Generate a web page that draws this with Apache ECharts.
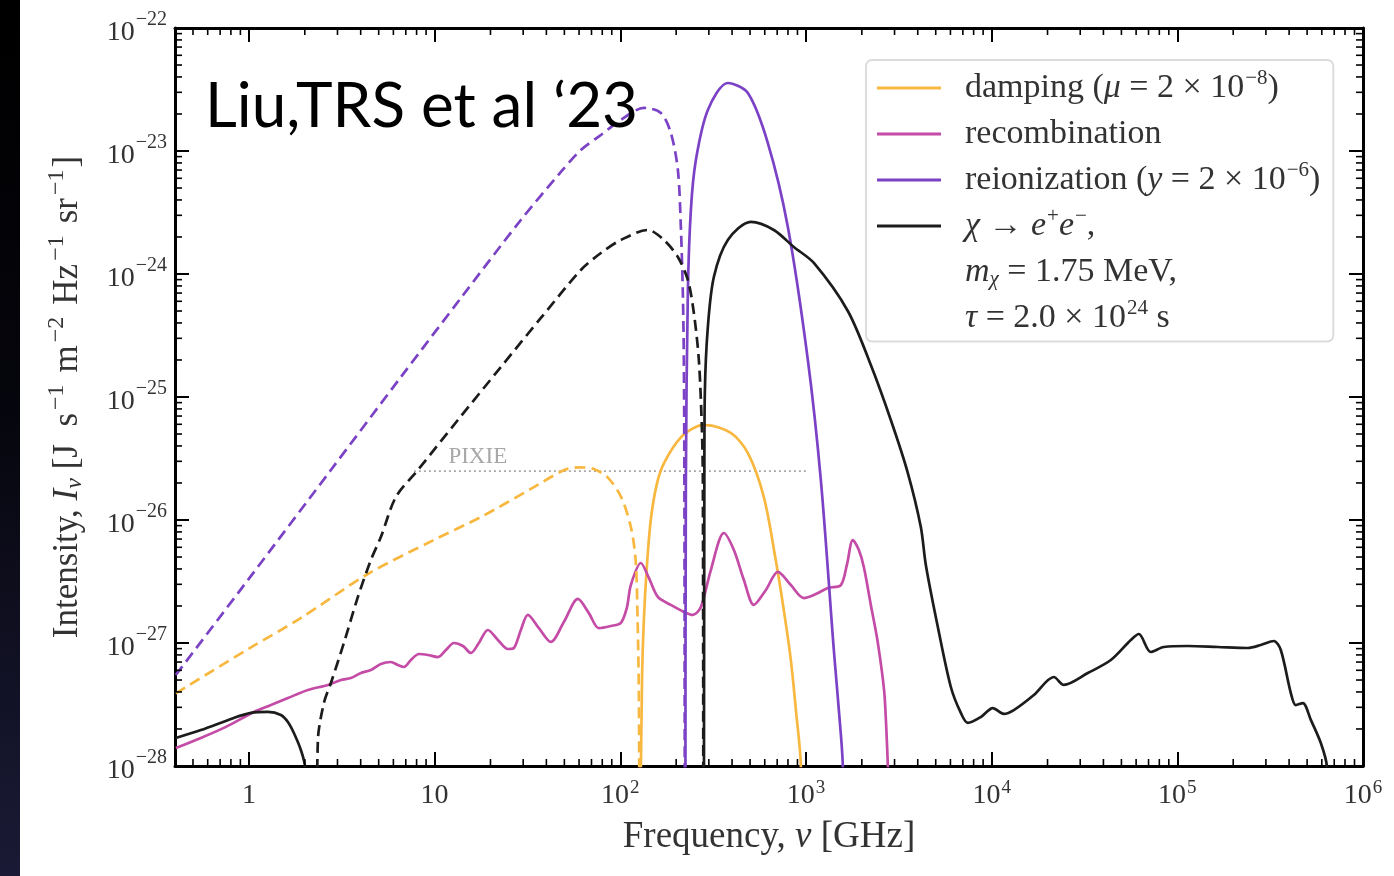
<!DOCTYPE html>
<html>
<head>
<meta charset="utf-8">
<script src="https://cdn.jsdelivr.net/npm/echarts@6/dist/echarts.min.js"></script>
<style>
  html, body { margin: 0; padding: 0; background: #fff; }
  #strip { position: absolute; left: 0; top: 0; width: 20px; height: 876px; background: linear-gradient(#000 0%, #05050c 45%, #1a1a36 100%); }
  #chart { position: absolute; left: 0; top: 0; width: 1394px; height: 876px; }
</style>
</head>
<body>
<div id="strip"></div>
<div id="chart"></div>
<script>
// frequency in GHz, intensity in J s^-1 m^-2 Hz^-1 sr^-1
// dashed parts = negative values (plotted as |I|)
var dampingPos = [[127, 1e-29], [131, 5.0e-28], [134, 1.54e-27], [139, 4.15e-27], [146, 1.0e-26], [157, 1.93e-26],
  [172, 2.9e-26], [212, 4.7e-26], [262, 5.8e-26], [289, 5.9e-26], [394, 5.1e-26], [487, 3.5e-26], [593, 1.54e-26],
  [688, 4.7e-27], [760, 1.85e-27], [829, 7.3e-28], [883, 2.85e-28], [939, 1.0e-28], [950, 1e-29]];
var dampingNeg = [[0.404, 3.9e-28], [1.0, 9.0e-28], [1.91, 1.6e-27], [4.37, 3.64e-27], [9.9, 6.88e-27], [17.8, 1.06e-26],
  [33, 1.79e-26], [50, 2.55e-26], [60, 2.68e-26], [72, 2.6e-26], [86, 2.2e-26], [101, 1.54e-26], [114, 8.8e-27],
  [121, 4.7e-27], [124, 1.54e-27], [126, 3.4e-28], [127, 1e-29]];

var recombination = [[0.404, 1.40e-28], [0.551, 1.69e-28], [0.752, 2.08e-28], [1.064, 2.75e-28], [1.314, 3.13e-28],
  [1.622, 3.57e-28], [2.078, 4.15e-28], [2.664, 4.56e-28], [3.129, 5.00e-28], [3.542, 5.19e-28], [4.010, 5.70e-28],
  [4.539, 6.03e-28], [5.137, 6.75e-28], [5.817, 7.01e-28], [6.345, 6.62e-28], [6.833, 6.38e-28], [7.456, 7.27e-28],
  [8.232, 8.14e-28], [9.203, 7.99e-28], [10.42, 7.69e-28], [11.51, 8.77e-28], [12.70, 1.00e-27], [14.21, 9.45e-28],
  [15.69, 8.29e-28], [17.32, 1.00e-27], [19.36, 1.276e-27], [21.93, 1.058e-27], [24.81, 8.94e-28], [26.73, 9.11e-28],
  [29.15, 1.276e-27], [31.80, 1.69e-27], [36.46, 1.32e-27], [42.29, 1.02e-27], [49.70, 1.48e-27], [59.13, 2.28e-27],
  [67.75, 1.75e-27], [76.70, 1.32e-27], [89.01, 1.375e-27], [100.7, 1.455e-27], [108.5, 1.93e-27], [114.0, 2.96e-27],
  [129.1, 4.47e-27], [142.6, 3.38e-27], [159.4, 2.37e-27], [187.3, 2.04e-27], [220.0, 1.79e-27], [246.0, 1.69e-27],
  [271.7, 1.96e-27], [307.5, 3.92e-27], [361.4, 7.84e-27], [409.1, 5.70e-27], [463.1, 3.25e-27], [524.2, 2.04e-27],
  [608.4, 2.70e-27], [706.2, 3.78e-27], [829.5, 2.96e-27], [974.4, 2.32e-27], [1131, 2.50e-27], [1312, 2.80e-27],
  [1542, 2.96e-27], [1661, 4.31e-27], [1789, 6.88e-27], [1927, 5.70e-27], [2050, 4.15e-27], [2236, 2.04e-27],
  [2440, 1.00e-27], [2661, 3.44e-28], [2902, 1e-29]];

var reionPos = [[224.2, 1e-29], [225.6, 2.11e-26], [231.2, 7.01e-25], [240.0, 3.31e-24], [255.4, 8.45e-24],
  [296.3, 2.155e-23], [379.6, 3.57e-23], [486.5, 2.96e-23], [623.5, 1.161e-23], [799, 2.41e-24], [1024, 2.00e-25],
  [1203, 2.11e-26], [1413, 8.77e-28], [1504, 2.85e-28], [1580, 1.0e-28], [1600, 1e-29]];
var reionNeg = [[0.404, 5.49e-28], [1.025, 3.50e-27], [2.765, 2.55e-26], [6.585, 1.454e-25], [13.86, 6.38e-25],
  [29.15, 2.75e-24], [47.88, 6.75e-24], [61.35, 1.019e-23], [78.62, 1.349e-23], [100.7, 1.786e-23], [134.0, 2.24e-23],
  [165.4, 2.04e-23], [187.3, 1.40e-23], [204.3, 7.01e-24], [212.0, 2.41e-24], [217.3, 7.01e-25], [220.0, 2.00e-25],
  [221.5, 2.11e-26], [222.8, 1e-29]];

var chiLow = [[0.404, 1.69e-28], [0.551, 1.96e-28], [0.830, 2.46e-28], [1.025, 2.70e-28], [1.266, 2.75e-28],
  [1.487, 2.60e-28], [1.622, 2.28e-28], [1.747, 1.855e-28], [1.905, 1.349e-28], [2.002, 1.0e-28], [2.05, 1e-29]];
var chiNeg = [[2.309, 1e-29], [2.353, 1.627e-28], [2.535, 3.25e-28], [2.765, 4.73e-28], [3.248, 1.00e-27],
  [3.864, 2.37e-27], [4.539, 4.73e-27], [5.137, 7.27e-27], [6.189, 1.538e-26], [8.130, 2.55e-26], [13.35, 6.50e-26],
  [22.75, 1.753e-25], [37.37, 4.39e-25], [61.35, 1.078e-24], [78.62, 1.481e-24], [100.7, 1.89e-24], [140.8, 2.28e-24],
  [171.7, 1.89e-24], [204.3, 1.374e-24], [231.2, 8.94e-25], [249.1, 4.82e-25], [265.0, 2.00e-25], [275.0, 5.70e-26],
  [278.5, 2.11e-26], [280.2, 1e-29]];
var chiHigh = [[281.9, 1e-29], [283.7, 2.11e-26], [285.4, 1.078e-25], [296.3, 3.71e-25], [319.2, 9.45e-25],
  [379.6, 1.89e-24], [504.9, 2.65e-24], [671.5, 2.28e-24], [860.6, 1.658e-24], [1103, 1.229e-24], [1681, 5.00e-25],
  [2236, 1.82e-25], [2865, 6.50e-26], [3538, 2.41e-26], [4156, 8.77e-27], [4422, 4.31e-27], [5132, 1.349e-27],
  [6030, 4.39e-28], [6826, 2.70e-28], [7444, 2.24e-28], [8748, 2.50e-28], [10150, 2.96e-28], [11635, 2.65e-28],
  [13170, 2.85e-28], [16880, 3.78e-28], [21630, 5.29e-28], [24480, 4.56e-28], [32960, 5.70e-28], [43850, 7.27e-28],
  [56180, 1.058e-27], [62030, 1.183e-27], [72000, 8.45e-28], [84580, 9.28e-28], [113900, 9.45e-28], [165200, 9.28e-28],
  [239700, 9.11e-28], [281600, 9.63e-28], [330800, 1.038e-27], [360800, 8.77e-28], [408600, 3.92e-28],
  [434600, 3.13e-28], [474100, 3.25e-28], [523600, 2.37e-28], [592700, 1.538e-28], [638400, 1.0e-28], [660000, 1e-29]];

var pixie = [[7.74, 2.5e-26], [999, 2.5e-26]];

// axis ranges, major tick exponents and minor tick mantissas
var xRange = [0.4, 1e6];
var yRange = [1e-28, 1e-22];
var xMajorExp = [0, 1, 2, 3, 4, 5, 6];
var yMajorExp = [-28, -27, -26, -25, -24, -23, -22];
var minorMantissas = [2, 3, 4, 5, 6, 7, 8, 9];
var xDecades = [0.1, 1, 10, 100, 1000, 10000, 100000];
var yDecades = [1e-28, 1e-27, 1e-26, 1e-25, 1e-24, 1e-23];

var legendText = {
  damping: 'damping ({i|μ} = 2 × 10{s|−8})',
  recombination: 'recombination',
  reionization: 'reionization ({i|y} = 2 × 10{s|−6})',
  chi: '{i|χ} → {i|e}{s|+}{i|e}{s|−},\n{i|m}{u|χ} = 1.75 MeV,\n{i|τ} = 2.0 × 10{s|24} s'
};

var colors = { damping: '#F8B840', recombination: '#C44BA6', reionization: '#7B42C6', chi: '#1c1c1c' };
var serif = 'Liberation Serif';

// the plot is log-log: both axes carry log10 of the values
function lg(arr) { return arr.map(function (p) { return [Math.log10(p[0]), Math.log10(p[1])]; }); }

function minorList(decades, lo, hi) {
  var out = [];
  decades.forEach(function (d) {
    minorMantissas.forEach(function (m) {
      var v = m * d;
      if (v > lo * 1.0001 && v < hi * 0.9999) out.push(Math.log10(v));
    });
  });
  return out;
}
var xMinor = minorList(xDecades, xRange[0], xRange[1]);
var yMinor = minorList(yDecades, yRange[0], yRange[1]);

function curve(name, data, dashed) {
  return {
    name: name, type: 'line', data: lg(data), symbol: 'none', clip: true,
    smooth: 0.3, z: 3,
    lineStyle: { color: colors[name], width: 2.7, type: dashed ? [11, 6] : 'solid' },
    itemStyle: { color: colors[name] }
  };
}

function minorTicks(dim, values) {
  var len = 7;
  return {
    type: 'custom', silent: true, clip: false, z: 6,
    data: values.map(function (v) { return dim === 'x' ? [v, -25] : [1, v]; }),
    renderItem: function (params, api) {
      var cs = params.coordSys;
      var p = api.coord([api.value(0), api.value(1)]);
      var st = { stroke: '#000', lineWidth: 1.6 };
      if (dim === 'x') {
        return { type: 'group', children: [
          { type: 'line', shape: { x1: p[0], y1: cs.y + cs.height, x2: p[0], y2: cs.y + cs.height - len }, style: st },
          { type: 'line', shape: { x1: p[0], y1: cs.y, x2: p[0], y2: cs.y + len }, style: st }
        ] };
      }
      return { type: 'group', children: [
        { type: 'line', shape: { x1: cs.x, y1: p[1], x2: cs.x + len, y2: p[1] }, style: st },
        { type: 'line', shape: { x1: cs.x + cs.width, y1: p[1], x2: cs.x + cs.width - len, y2: p[1] }, style: st }
      ] };
    }
  };
}

var labelRich = {
  b: { fontFamily: serif, fontSize: 28, lineHeight: 36, color: '#333' },
  s: { fontFamily: serif, fontSize: 19, lineHeight: 36, color: '#333', padding: [0, 0, 16, 1] }
};
var yLabelRich = {
  b: { fontFamily: serif, fontSize: 28, lineHeight: 36, color: '#333', padding: [10, 0, 0, 0] },
  s: { fontFamily: serif, fontSize: 20, lineHeight: 36, color: '#333', padding: [0, 0, 16, 1] }
};

function axisBase(range, majors) {
  return {
    type: 'value', min: Math.log10(range[0]), max: Math.log10(range[1]),
    axisLine: { show: true, onZero: false, lineStyle: { color: '#000', width: 3 } },
    axisTick: { show: true, inside: true, length: 14, customValues: majors, lineStyle: { color: '#000', width: 2 } },
    splitLine: { show: false }, minorTick: { show: false }
  };
}

var xMain = axisBase(xRange, xMajorExp);
xMain.position = 'bottom';
xMain.axisLabel = {
  margin: 12, rich: labelRich, customValues: xMajorExp,
  formatter: function (v) {
    var e = Math.round(v);
    if (e === 0) return '{b|1}';
    if (e === 1) return '{b|10}';
    return '{b|10}{s|' + e + '}';
  }
};
xMain.name = 'Frequency, {i|ν} [GHz]';
xMain.nameLocation = 'middle';
xMain.nameGap = 47;
xMain.nameTextStyle = { fontFamily: serif, fontSize: 37, color: '#333',
  rich: { i: { fontFamily: serif, fontSize: 37, fontStyle: 'italic', color: '#333' } } };

var xTop = axisBase(xRange, xMajorExp);
xTop.position = 'top';
xTop.axisLabel = { show: false };

var yMain = axisBase(yRange, yMajorExp);
yMain.position = 'left';
yMain.axisLabel = {
  margin: 8, rich: yLabelRich, customValues: yMajorExp,
  formatter: function (v) {
    return '{b|10}{s|' + String(Math.round(v)).replace('-', '−') + '}';
  }
};
yMain.name = 'Intensity, {i|I}{u|ν} [J\u2002s{s|−1}m{s|−2}Hz{s|−1}sr{z|−1}]';
yMain.nameLocation = 'middle';
yMain.nameGap = 84;
yMain.nameTextStyle = { fontFamily: serif, fontSize: 35, color: '#333',
  rich: {
    i: { fontFamily: serif, fontSize: 35, fontStyle: 'italic', color: '#333' },
    s: { fontFamily: serif, fontSize: 24, color: '#333', padding: [0, 12, 22, 3] },
    z: { fontFamily: serif, fontSize: 24, color: '#333', padding: [0, 2, 22, 3] },
    u: { fontFamily: serif, fontSize: 24, fontStyle: 'italic', color: '#333', padding: [14, 0, 0, 0] }
  } };

var yRight = axisBase(yRange, yMajorExp);
yRight.position = 'right';
yRight.axisLabel = { show: false };

var option = {
  animation: false,
  title: {
    text: 'Liu,TRS et al ‘23', left: 205, top: 76, padding: 0,
    textStyle: { fontFamily: 'Lato', fontSize: 62, fontWeight: 'normal', color: '#000' }
  },
  grid: { left: 175, right: 31, top: 28, bottom: 110 },
  xAxis: [xMain, xTop],
  yAxis: [yMain, yRight],
  legend: {
    left: 866, top: 60, orient: 'vertical', selectedMode: false,
    padding: [5, 13, 3, 11], itemGap: 0, itemWidth: 64, itemHeight: 3, icon: 'rect',
    backgroundColor: 'rgba(255,255,255,0.9)', borderColor: '#dcdcdc', borderWidth: 2, borderRadius: 6,
    data: ['damping', 'recombination', 'reionization',
      { name: 'chi', textStyle: { padding: [0, 0, -92, 19] } }],
    formatter: function (name) { return legendText[name]; },
    textStyle: {
      fontFamily: serif, fontSize: 34, color: '#333', lineHeight: 46, padding: [0, 0, 0, 19],
      backgroundColor: 'transparent',
      rich: {
        i: { fontFamily: serif, fontSize: 34, fontStyle: 'italic', color: '#333', lineHeight: 46 },
        s: { fontFamily: serif, fontSize: 21, color: '#333', lineHeight: 46, padding: [0, 0, 20, 1] },
        u: { fontFamily: serif, fontSize: 21, fontStyle: 'italic', color: '#333', lineHeight: 46, padding: [14, 0, 0, 0] }
      }
    }
  },
  series: [
    curve('damping', dampingPos, false),
    curve('recombination', recombination, false),
    curve('reionization', reionPos, false),
    curve('chi', chiHigh, false),
    curve('chi', chiLow, false),
    curve('damping', dampingNeg, true),
    curve('reionization', reionNeg, true),
    curve('chi', chiNeg, true),
    {
      name: 'PIXIE', type: 'line', symbol: 'circle', symbolSize: 1, showSymbol: true, z: 2,
      itemStyle: { color: 'transparent' },
      lineStyle: { color: '#a8a8a8', width: 1.8, type: [2, 3] },
      data: [
        { value: lg(pixie)[0], label: { show: true, position: 'right', distance: 34, offset: [0, -14],
          formatter: 'PIXIE', fontFamily: serif, fontSize: 23, color: '#a8a8a8' } },
        lg(pixie)[1]
      ]
    },
    minorTicks('x', xMinor),
    minorTicks('y', yMinor)
  ]
};

var chart = echarts.init(document.getElementById('chart'));
chart.setOption(option);
</script>
</body>
</html>
